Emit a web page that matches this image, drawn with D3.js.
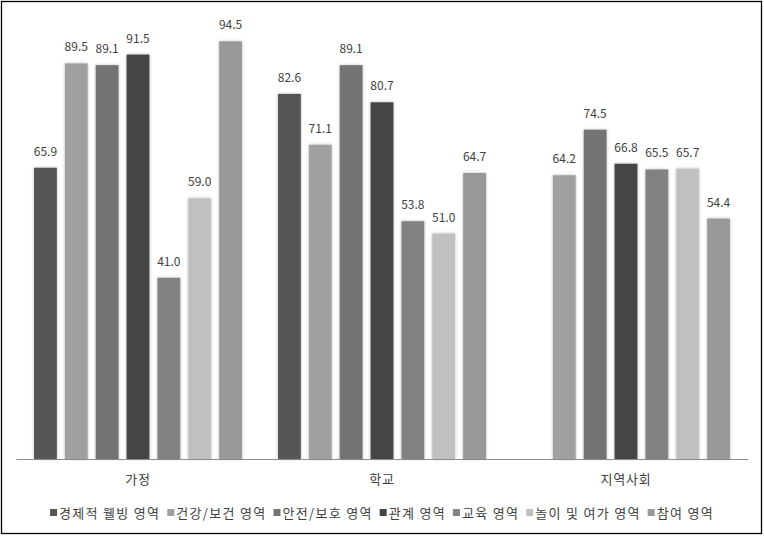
<!DOCTYPE html>
<html><head><meta charset="utf-8">
<script src="https://cdn.jsdelivr.net/npm/d3@7"></script>
<style>body{margin:0;background:#fff}svg{display:block}</style>
</head><body>
<svg id="c" width="764" height="536"></svg>
<script>
const categories = ["가정", "학교", "지역사회"];
const seriesNames = ["경제적 웰빙 영역", "건강/보건 영역", "안전/보호 영역", "관계 영역", "교육 영역", "놀이 및 여가 영역", "참여 영역"];
const seriesColors = ["#555555", "#a0a0a0", "#737373", "#444444", "#828282", "#c0c0c0", "#999999"];
const valuesEconomic = [65.9, 82.6, null];
const valuesHealth = [89.5, 71.1, 64.2];
const valuesSafety = [89.1, 89.1, 74.5];
const valuesRelation = [91.5, 80.7, 66.8];
const valuesEducation = [41.0, 53.8, 65.5];
const valuesPlay = [59.0, 51.0, 65.7];
const valuesParticipation = [94.5, 64.7, 54.4];
const seriesValues = [valuesEconomic, valuesHealth, valuesSafety, valuesRelation, valuesEducation, valuesPlay, valuesParticipation];

const svg = d3.select("#c");
const font = "'Noto Sans CJK KR', 'Noto Sans', sans-serif";
const plotLeft = 16, plotRight = 748, plotTop = 17, base = 459;

const defs = svg.append("defs");
const f = defs.append("filter").attr("id","sh").attr("x","-30%").attr("y","-5%").attr("width","160%").attr("height","110%");
f.append("feDropShadow").attr("dx",0).attr("dy",0).attr("stdDeviation",1.6).attr("flood-color","#000").attr("flood-opacity",0.28);

const x0 = d3.scaleBand().domain(categories).range([plotLeft, plotRight]).padding(0);
const x1 = d3.scaleBand().domain(seriesNames).range([14, x0.bandwidth() - 14]).paddingInner(0.26).paddingOuter(0.13);
const y = d3.scaleLinear().domain([0, 100]).range([base, plotTop]);

const data = [];
categories.forEach((c, ci) => seriesNames.forEach((s, si) => {
  const v = seriesValues[si][ci];
  if (v != null) data.push({c, s, si, v});
}));

const g = svg.append("g");
g.selectAll("rect.bar").data(data).enter().append("rect")
  .attr("class","bar")
  .attr("x", d => x0(d.c) + x1(d.s))
  .attr("width", x1.bandwidth())
  .attr("y", d => y(d.v))
  .attr("height", d => base - y(d.v))
  .attr("fill", d => seriesColors[d.si])
  .attr("filter","url(#sh)");

g.selectAll("text.lbl").data(data).enter().append("text")
  .attr("class","lbl")
  .attr("x", d => x0(d.c) + x1(d.s) + x1.bandwidth()/2)
  .attr("y", d => y(d.v) - 12)
  .attr("text-anchor","middle")
  .attr("font-family", font).attr("font-size", 12).attr("fill","#404040")
  .text(d => d.v.toFixed(1));

const ax = svg.append("g").attr("transform", `translate(0,${base})`)
  .call(d3.axisBottom(x0).tickSize(0).tickPadding(16));
ax.select(".domain").attr("stroke","#8c8c8c").attr("stroke-width",1.2);
ax.selectAll("text").attr("font-family", font).attr("font-size", 13).attr("fill","#404040").attr("letter-spacing", 0.8);

const leg = svg.append("g");
let lx = 0;
seriesNames.forEach((s, i) => {
  const it = leg.append("g");
  it.append("rect").attr("x",0).attr("y",-4).attr("width",7).attr("height",7).attr("fill",seriesColors[i]);
  const t = it.append("text").attr("x",9).attr("y",5).attr("font-family",font).attr("font-size",13)
    .attr("letter-spacing", 1.3).attr("fill","#404040").text(s);
  const w = 9 + t.node().getComputedTextLength();
  it.attr("transform",`translate(${lx},0)`);
  lx += w + 7;
});
const total = lx - 7;
leg.attr("transform",`translate(${(764 - total)/2},513)`);

svg.append("rect").attr("x",1.5).attr("y",1.5).attr("width",760).attr("height",532)
  .attr("fill","none").attr("stroke","#000").attr("stroke-width",1.3);
</script>
</body></html>
